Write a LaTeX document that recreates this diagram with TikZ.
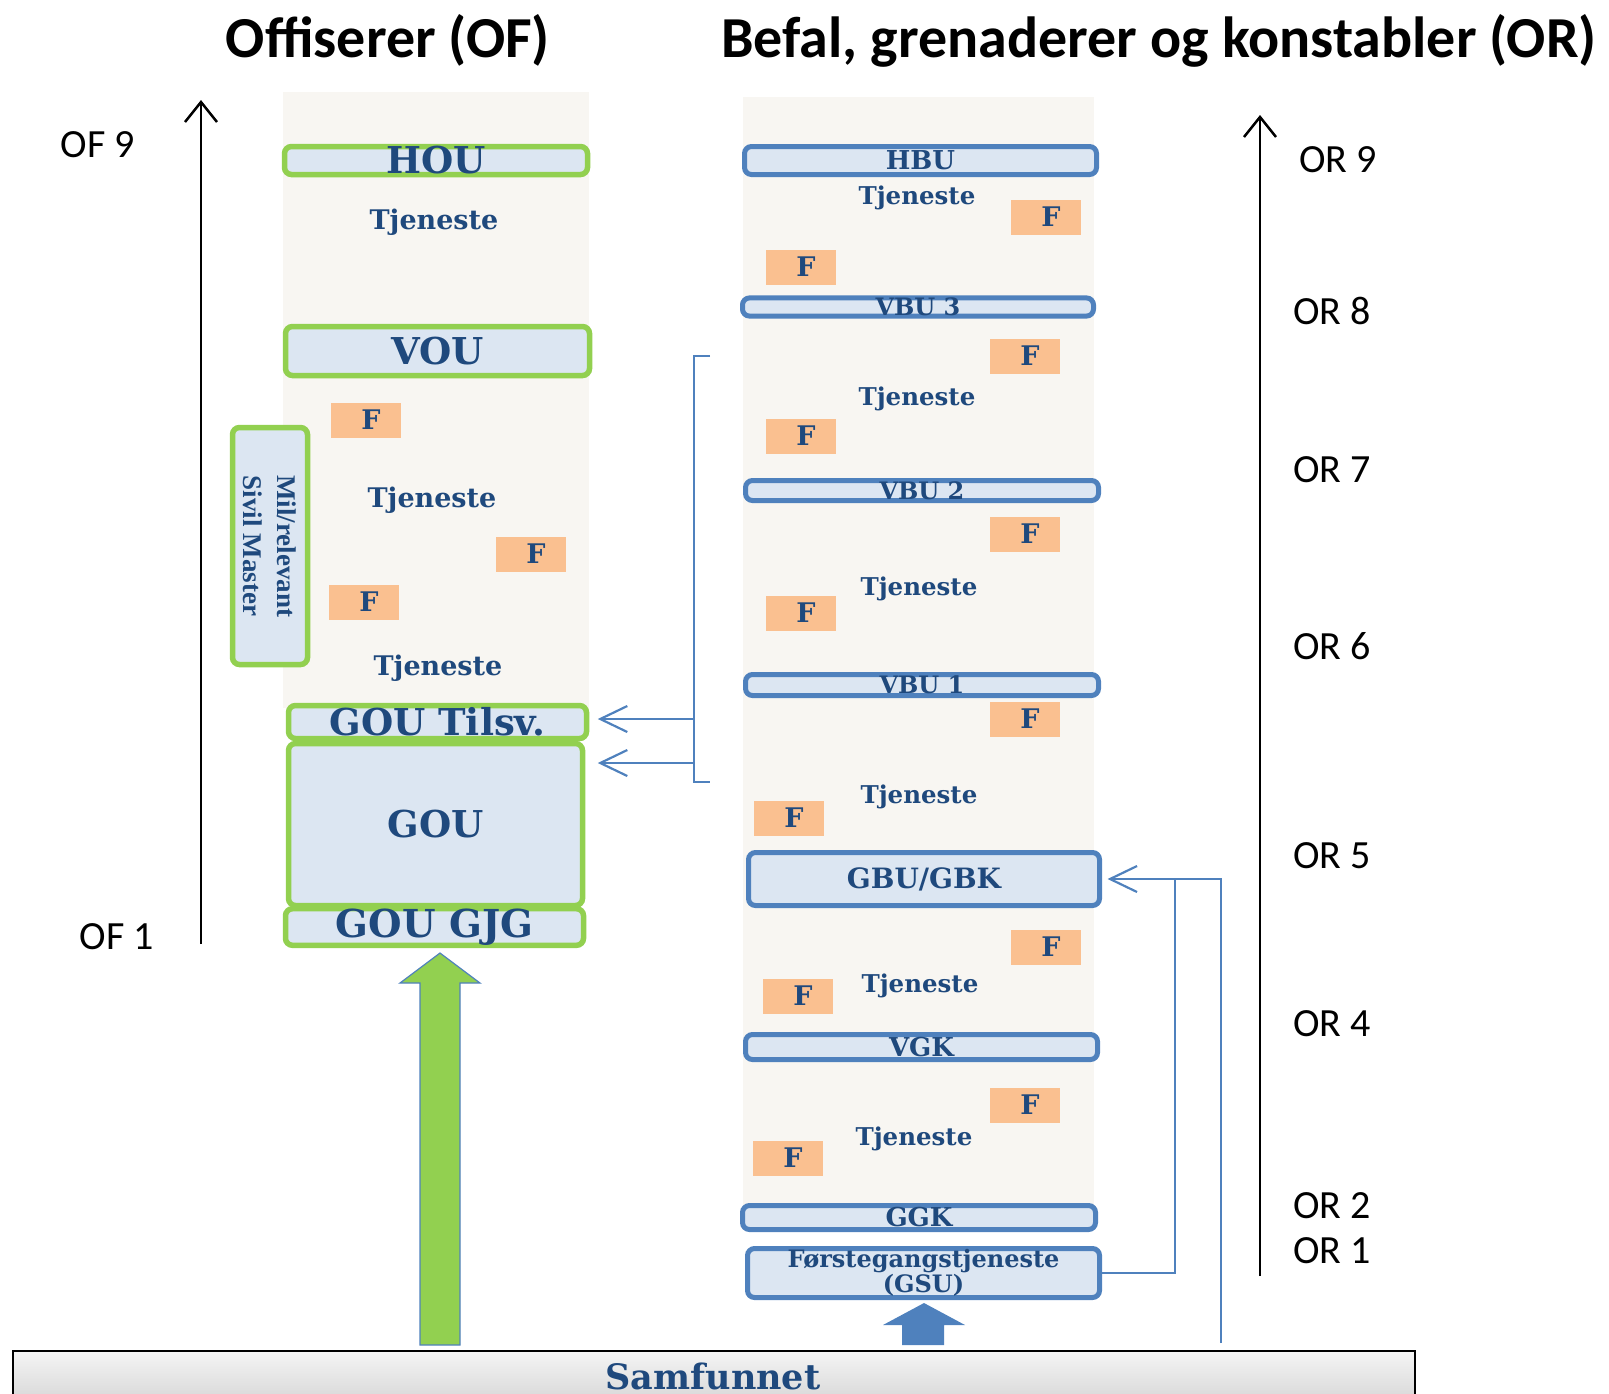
\documentclass[tikz,border=0pt]{standalone}
\usepackage{fontspec}
\setmainfont{DejaVu Serif}
\newfontfamily\calibri{Carlito}
\newfontfamily\timesfont{Liberation Serif}
\usetikzlibrary{arrows.meta,calc}

\definecolor{ofgreen}{HTML}{92D050}
\definecolor{orblue}{HTML}{4F81BD}
\definecolor{boxfill}{HTML}{DCE6F2}
\definecolor{navy}{HTML}{1F497D}
\definecolor{paper}{HTML}{F8F6F2}
\definecolor{forange}{HTML}{FAC090}

\newcommand{\fsz}[1]{\fontsize{#1}{#1}\selectfont}

\begin{document}
\begin{tikzpicture}[x=1pt,y=-1pt,
  ofbox/.style={draw=ofgreen, line width=5.5pt, fill=boxfill, rounded corners=7pt,
    inner sep=0pt, text=navy, font=\bfseries\fsz{37}},
  orbox/.style={draw=orblue, line width=5pt, fill=boxfill, rounded corners=7pt,
    inner sep=0pt, text=navy, font=\bfseries\fsz{26}},
  svc/.style={text=navy, inner sep=0pt, font=\bfseries\fsz{24.5}},
  svcl/.style={svc, font=\bfseries\fsz{27}},
  fbox/.style={fill=forange, minimum width=70pt, minimum height=35pt, inner sep=0pt,
    text=navy, font=\bfseries\fsz{27}},
  rank/.style={inner sep=0pt, font=\calibri\fsz{40}},
  title/.style={inner sep=0pt, font=\calibri\bfseries\fsz{58}},
  axis/.style={line width=2.5pt, -{Straight Barb[length=20pt,width=32pt]}},
  link/.style={draw=orblue, line width=2.2pt},
  tipped/.style={-{Straight Barb[length=27pt,width=26pt]}}
]
\useasboundingbox (0,0) rectangle (1609,1393);

% column backdrops
\fill[paper] (283,92) rectangle (589,708);
\fill[paper] (743,97) rectangle (1094,1221);

% headings
\node[title, anchor=base] (tof) at (388,57) {Offiserer (OF)};
\node[title, anchor=base] (tor) at (1159,57) {Befal, grenaderer og konstabler (OR)};

% rank axes
\coordinate (ofbot) at (201,944);
\coordinate (oftop) at (201,100);
\draw[axis] (ofbot) -- (oftop);
\node[rank] (of9) at (98,145) {OF 9};
\node[rank] (of1) at (117,937) {OF 1};

\coordinate (orbot) at (1260,1276);
\coordinate (ortop) at (1260,115);
\draw[axis] (orbot) -- (ortop);
\node[rank] (or9) at (1338,160) {OR 9};
\node[rank] (or8) at (1332,311) {OR 8};
\node[rank] (or7) at (1332,470) {OR 7};
\node[rank] (or6) at (1332,646) {OR 6};
\node[rank] (or5) at (1332,856) {OR 5};
\node[rank] (or4) at (1332,1024) {OR 4};
\node[rank] (or2) at (1332,1206) {OR 2};
\node[rank] (or1) at (1332,1251) {OR 1};

% officer ladder
\node[ofbox, minimum width=303pt, minimum height=28pt] (hou) at (436,160.5) {HOU};
\node[svcl] (t1) at (434,222) {Tjeneste};
\node[ofbox, minimum width=304pt, minimum height=49pt] (vou) at (437.5,351) {VOU};
\node[fbox] (f1) at (366,420) {\hspace*{10pt}F};
\node[svcl] (t2) at (432,500) {Tjeneste};
\node[fbox] (f2) at (531,554) {\hspace*{10pt}F};
\node[fbox] (f3) at (364,602) {\hspace*{10pt}F};
\node[svcl] (t3) at (438,668) {Tjeneste};
\node[ofbox, rotate=-90, minimum width=237pt, minimum height=75pt, align=center,
  font=\timesfont\bfseries\fontsize{27}{34}\selectfont] (mil) at (270,546)
  {Mil/relevant\\Sivil Master};
\node[ofbox, minimum width=294pt, minimum height=162pt] (gou) at (435.5,824.5) {GOU};
\node[ofbox, minimum width=298pt, minimum height=33pt] (gtilsv) at (437.5,722) {GOU Tilsv.};
\node[ofbox, minimum width=298pt, minimum height=33pt, font=\bfseries\fsz{38.5}] (gjg) at (434.5,927) {GOU GJG};

% enlisted ladder
\node[orbox, minimum width=352pt, minimum height=28pt] (hbu) at (920.5,160.5) {HBU};
\node[svc] (t4) at (917,198) {Tjeneste};
\node[fbox] (f4) at (1046,217) {\hspace*{10pt}F};
\node[fbox] (f5) at (801,267) {\hspace*{10pt}F};
\node[orbox, minimum width=351pt, minimum height=17pt, font=\bfseries\fsz{24}] (vbu3) at (918,307) {VBU 3};
\node[fbox] (f6) at (1025,356) {\hspace*{10pt}F};
\node[svc] (t5) at (917,399) {Tjeneste};
\node[fbox] (f7) at (801,436) {\hspace*{10pt}F};
\node[orbox, minimum width=353pt, minimum height=20pt, font=\bfseries\fsz{24}] (vbu2) at (922,490.5) {VBU 2};
\node[fbox] (f8) at (1025,534) {\hspace*{10pt}F};
\node[svc] (t6) at (919,589) {Tjeneste};
\node[fbox] (f9) at (801,613) {\hspace*{10pt}F};
\node[orbox, minimum width=353pt, minimum height=21pt, font=\bfseries\fsz{24}] (vbu1) at (922,685) {VBU 1};
\node[fbox] (f10) at (1025,719) {\hspace*{10pt}F};
\node[svc] (t7) at (919,797) {Tjeneste};
\node[fbox] (f11) at (789,818) {\hspace*{10pt}F};
\node[orbox, minimum width=351pt, minimum height=53pt, font=\bfseries\fsz{28}] (gbu) at (924,879) {GBU/GBK};
\node[fbox] (f12) at (1046,947) {\hspace*{10pt}F};
\node[svc] (t8) at (920,986) {Tjeneste};
\node[fbox] (f13) at (798,996) {\hspace*{10pt}F};
\node[orbox, minimum width=352pt, minimum height=25pt] (vgk) at (921.5,1047) {VGK};
\node[fbox] (f14) at (1025,1105) {\hspace*{10pt}F};
\node[svc] (t9) at (914,1139) {Tjeneste};
\node[fbox] (f15) at (788,1158) {\hspace*{10pt}F};
\node[orbox, minimum width=353pt, minimum height=24pt] (ggk) at (919,1217.5) {GGK};
\node[orbox, minimum width=352pt, minimum height=49pt, align=center,
  font=\bfseries\fontsize{24}{25}\selectfont] (gsu) at (923.5,1273)
  {Førstegangstjeneste\\(GSU)};

% society bar
\node[draw=black, line width=2pt, top color=gray!8, bottom color=gray!40,
  minimum width=1402pt, minimum height=70pt, inner sep=0pt, anchor=north west]
  (sam) at (12,1350) {};
\node[text=navy, inner sep=0pt, anchor=base, font=\bfseries\fsz{35}] (samtxt) at (713,1389) {Samfunnet};

% intake arrows from society
\draw[fill=ofgreen, draw=orblue, line width=1.2pt, line join=miter]
  (440,953) -- (480,983) -- (460,983) -- (460,1345) -- (420,1345) -- (420,983) -- (400,983) -- cycle;
\fill[orblue]
  (924,1303) -- (965,1325) -- (944,1325) -- (944,1345) -- (902,1345) -- (902,1325) -- (883,1325) -- cycle;

% transfer from NCO ladder to officer entry
\coordinate (brtop) at (710,356);
\coordinate (brbot) at (710,782);
\draw[link] (brtop) -- (694,356) -- (694,782) -- (brbot);
\coordinate (br1) at (694,719);
\coordinate (br2) at (694,763);
\draw[link, tipped, shorten >=8.5pt] (br1) -- (br1 -| gtilsv.east);
\draw[link, tipped, shorten >=12.5pt] (br2) -- (br2 -| gou.east);

% routes into GBU/GBK
\draw[link] (gsu.east) -| (1175,879);
\coordinate (sambr) at (1221,1343);
\draw[link, tipped, shorten >=5.5pt] (sambr) |- (gbu.east);
\end{tikzpicture}
\end{document}
